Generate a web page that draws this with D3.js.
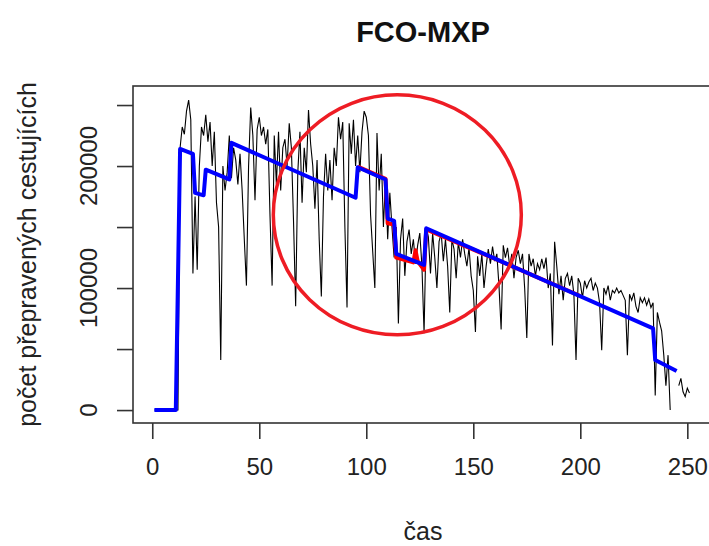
<!DOCTYPE html>
<html>
<head>
<meta charset="utf-8">
<script src="https://cdn.jsdelivr.net/npm/d3@7"></script>
<style>
  body { margin: 0; background: #fff; }
  text { font-family: "Liberation Sans", Arial, sans-serif; }
</style>
</head>
<body>
<div id="chart-area"></div>
<script>
/*
*    FCO-MXP
*/
// pocet cestujicich, den 1..251 (null = chybi)
var passengers = [
  0, 0, 0, 0, 0, 0, 0, 0, 0, 0, 0, 0,
  215000, 232000, 226000, 245000, 254000, 238000, 112000, 175000, 115000, 200000,
  232000, 225000, 242000, 220000, 236000, 200000, 228000, 170000, 150000, 41000,
  200000, 180000, 195000, 225000, 190000, 215000, 205000, 185000, 210000, 180000,
  140000, 102000, 200000, 248000, 225000, 172000, 230000, 240000, 225000, 232000,
  218000, 230000, 160000, 102000, 225000, 185000, 228000, 180000, 215000, 222000,
  200000, 235000, 215000, 155000, 85000, 195000, 228000, 170000, 215000, 195000,
  246000, 218000, 200000, 165000, 205000, 140000, 93000, 175000, 210000, 180000,
  205000, 172000, 215000, 200000, 240000, 222000, 236000, 150000, 84000, 235000,
  210000, 238000, 200000, 225000, 195000, 228000, 245000, 240000, 225000, 160000,
  130000, 100000, 227000, 180000, 210000, 150000, 190000, 140000, 178000, 150000,
  125000, 150000, 71000, 140000, 157000, 110000, 138000, 148000, 128000, 140000,
  120000, 135000, 145000, 118000, 63000, 150000, 142000, 112000, 145000, 125000,
  100000, 138000, 145000, 122000, 140000, 118000, 80000, 140000, 132000, 108000,
  138000, 125000, 140000, 128000, 118000, 133000, 110000, 98000, 64000, 126000,
  110000, 128000, 100000, 118000, 132000, 120000, 134000, 122000, 128000, 102000,
  66000, 135000, 125000, 133000, 118000, 128000, 108000, 125000, 131000, 120000,
  128000, 100000, 59000, 128000, 118000, 124000, 110000, 120000, 115000, 124000,
  116000, 125000, 100000, 112000, 53000, 138000, 118000, 95000, 110000, 90000,
  108000, 112000, 102000, 110000, 95000, 41000, 108000, 104000, 92000, 106000,
  100000, 105000, 108000, 98000, 104000, 100000, 88000, 49000, 100000, 95000,
  102000, 90000, 98000, 96000, 100000, 96000, 98000, 94000, 90000, 45000,
  95000, 90000, 96000, 85000, 80000, 92000, 88000, 92000, 86000, 91000,
  84000, 88000, 12000, 80000, 72000, 65000, 45000, 20000, 45000, 0,
  null, null, null, 20000, 26000, 15000, 11000, 18000, 14000
]

// modrá: zlomové body trendu
var trendDays = [1, 11, 12, 13, 19, 20, 24, 25, 36, 37, 95, 96, 109, 110, 113, 114, 127, 128, 234, 235, 245]
var trendVals = [0, 0, 106000, 214000, 210000, 178000, 176000, 197000, 189000, 219000, 174000, 199000, 189000, 157000, 155000, 128000, 119000, 149000, 67000, 41000, 32000]

// červená: jen kde vykukuje pod modrou
var redDays = [96, 109, 110, 113, 114, 122, 123, 124, 127, 128, 160, 200]
var redVals = [199500, 189500, 153000, 152000, 125000, 121000, 131000, 122000, 115000, 148000, 124000, 93500]

var xTicks = [0, 50, 100, 150, 200, 250]
var yTicks = [0, 50000, 100000, 150000, 200000, 250000]
var yLabels = [0, 100000, 200000]

var circleCenter = [114.5, 160000]

var width = 709
var height = 546
var box = {left: 133, right: 713, top: 86, bottom: 423}

var svg = d3.select("#chart-area")
  .append("svg")
  .attr("width", width)
  .attr("height", height)

var x = d3.scaleLinear().domain([-9, 262]).range([box.left, box.right])
var y = d3.scaleLinear().domain([-10600, 265600]).range([box.bottom, box.top])

var plot = svg.append("g")

var black = passengers.map((v, i) => ({day: i + 1, v: v}))
var lineBlack = d3.line().defined(d => d.v !== null).x(d => x(d.day)).y(d => y(d.v))
plot.append("path")
  .datum(black)
  .attr("fill", "none")
  .attr("stroke", "#000")
  .attr("stroke-width", 1.1)
  .attr("d", lineBlack)

var lineXY = d3.line().x(d => x(d[0])).y(d => y(d[1]))

plot.append("path")
  .datum(d3.zip(redDays, redVals))
  .attr("fill", "none")
  .attr("stroke", "#ff0000")
  .attr("stroke-width", 4)
  .attr("stroke-linejoin", "round")
  .attr("d", lineXY)

plot.append("path")
  .datum(d3.zip(trendDays, trendVals))
  .attr("fill", "none")
  .attr("stroke", "#0000ff")
  .attr("stroke-width", 4)
  .attr("stroke-linejoin", "round")
  .attr("d", lineXY)

// kruh
plot.append("ellipse")
  .attr("cx", x(circleCenter[0]))
  .attr("cy", y(circleCenter[1]))
  .attr("rx", 124)
  .attr("ry", 120)
  .attr("fill", "none")
  .attr("stroke", "#ee1c24")
  .attr("stroke-width", 3.5)

// ramecek
svg.append("rect")
  .attr("x", box.left)
  .attr("y", box.top)
  .attr("width", box.right - box.left)
  .attr("height", box.bottom - box.top)
  .attr("fill", "none")
  .attr("stroke", "#333")
  .attr("stroke-width", 1.6)

var bottomAxis = d3.axisBottom(x).tickValues(xTicks).tickSize(16).tickPadding(19).tickSizeOuter(0)
var gx = svg.append("g")
  .attr("transform", `translate(0, ${box.bottom})`)
  .call(bottomAxis)
gx.select(".domain").remove()
gx.selectAll("line").attr("stroke", "#333").attr("stroke-width", 1.6)
gx.selectAll("text").attr("font-size", "24px").attr("fill", "#222")

var leftAxis = d3.axisLeft(y).tickValues(yTicks).tickSize(16).tickFormat("")
var gy = svg.append("g")
  .attr("transform", `translate(${box.left}, 0)`)
  .call(leftAxis)
gy.select(".domain").remove()
gy.selectAll("line").attr("stroke", "#333").attr("stroke-width", 1.6)

svg.selectAll(".ylab")
  .data(yLabels)
  .enter()
  .append("text")
  .attr("class", "ylab")
  .attr("transform", d => `translate(97, ${y(d)}) rotate(-90)`)
  .attr("text-anchor", "middle")
  .attr("font-size", "24px")
  .attr("fill", "#222")
  .text(d => d)

svg.append("text")
  .attr("x", (box.left + box.right) / 2)
  .attr("y", 42)
  .attr("text-anchor", "middle")
  .attr("font-size", "29px")
  .attr("font-weight", "bold")
  .attr("fill", "#111")
  .text("FCO-MXP")

svg.append("text")
  .attr("x", (box.left + box.right) / 2)
  .attr("y", 540)
  .attr("text-anchor", "middle")
  .attr("font-size", "25px")
  .attr("fill", "#222")
  .text("čas")

svg.append("text")
  .attr("transform", `translate(36, ${(box.top + box.bottom) / 2}) rotate(-90)`)
  .attr("text-anchor", "middle")
  .attr("font-size", "25px")
  .attr("fill", "#222")
  .text("počet přepravených cestujících")
</script>
</body>
</html>
